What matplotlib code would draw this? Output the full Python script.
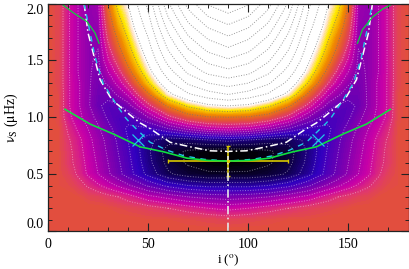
import numpy as np
import matplotlib
matplotlib.use('Agg')
import matplotlib.pyplot as plt
from matplotlib.colors import LinearSegmentedColormap
from matplotlib.ticker import MultipleLocator

plt.rcParams['font.family'] = ['Liberation Serif', 'DejaVu Serif']
plt.rcParams['mathtext.fontset'] = 'stix'

# field, left half only (it is mirrored about i=90)
inc_half = [0, 5, 10, 15, 20, 25, 30, 35, 40, 50, 60, 70, 80, 90]
nu_rows = [0.0, 0.1, 0.2, 0.3, 0.4, 0.5, 0.6, 0.7, 0.8, 0.9, 1.0,
           1.1, 1.2, 1.3, 1.4, 1.5, 1.6, 1.7, 1.8, 1.9, 2.0]
field_half = [
    [.66, .66, .66, .66, .66, .66, .66, .66, .66, .66, .66, .66, .66, .66],
    [.66, .66, .66, .66, .66, .66, .66, .66, .66, .65, .65, .64, .63, .62],
    [.66, .66, .66, .66, .66, .66, .65, .64, .63, .61, .58, .55, .52, .50],
    [.66, .66, .66, .65, .63, .62, .60, .58, .55, .48, .44, .40, .38, .37],
    [.66, .65, .64, .61, .57, .53, .49, .45, .41, .33, .26, .22, .20, .20],
    [.66, .65, .62, .57, .51, .46, .41, .36, .31, .20, .11, .07, .05, .05],
    [.66, .65, .60, .56, .50, .45, .40, .35, .30, .18, .08, .03, .01, .00],
    [.66, .65, .60, .55, .49, .44, .39, .34, .29, .17, .07, .03, .01, .00],
    [.66, .65, .59, .54, .48, .43, .38, .33, .28, .18, .12, .13, .16, .18],
    [.66, .65, .57, .51, .46, .41, .36, .31, .27, .27, .34, .42, .48, .50],
    [.66, .64, .54, .48, .43, .38, .33, .30, .30, .40, .55, .66, .71, .72],
    [.66, .64, .53, .47, .41, .35, .32, .33, .37, .55, .74, .88, .97, 1.00],
    [.66, .64, .53, .47, .41, .36, .36, .41, .47, .70, .96, 1.12, 1.22, 1.28],
    [.66, .63, .53, .47, .41, .37, .41, .48, .58, .85, 1.10, 1.30, 1.42, 1.48],
    [.66, .63, .53, .46, .41, .38, .46, .55, .68, .95, 1.22, 1.45, 1.60, 1.66],
    [.66, .63, .53, .46, .41, .39, .51, .62, .76, 1.02, 1.33, 1.58, 1.74, 1.82],
    [.66, .63, .53, .46, .41, .40, .55, .69, .82, 1.08, 1.43, 1.70, 1.88, 1.96],
    [.66, .63, .53, .46, .41, .41, .60, .74, .87, 1.14, 1.52, 1.82, 2.00, 2.10],
    [.66, .63, .53, .46, .41, .42, .64, .80, .92, 1.20, 1.62, 1.94, 2.14, 2.24],
    [.66, .63, .53, .46, .41, .43, .68, .85, .96, 1.26, 1.72, 2.06, 2.28, 2.38],
    [.66, .63, .53, .46, .41, .44, .72, .90, 1.00, 1.32, 1.82, 2.18, 2.42, 2.52],
]

# curves
white_i = [18, 20, 26, 31, 33.5, 41, 46, 51, 61, 71, 81, 90, 99, 109, 119, 129, 134, 139, 146.5, 149, 154, 160, 162]
white_nu = [2.0, 1.74, 1.33, 1.18, 1.13, 1.02, .95, .9, .78, .74, .705, .70, .705, .74, .78, .9, .95, 1.02, 1.13, 1.18, 1.33, 1.74, 2.0]
cyan_i = [18, 23.5, 27.5, 33.5, 38.5, 41, 51, 59.5, 68, 78, 90, 102, 112, 120.5, 129, 139, 141.5, 146.5, 152.5, 156.5, 162]
cyan_nu = [2.0, 1.53, 1.3, 1.13, 1.0, .95, .78, .71, .66, .63, .615, .63, .66, .71, .78, .95, 1.0, 1.13, 1.3, 1.53, 2.0]
green_i = [8.5, 21, 33, 46, 58, 69.5, 80, 90, 100, 110.5, 122, 134, 147, 159, 171]
green_nu = [1.07, .94, .85, .74, .695, .64, .62, .615, .62, .64, .695, .74, .85, .94, 1.07]
arc_l_i = [6.5, 12.5, 19.5, 23.5, 25.5]
arc_l_nu = [2.0, 1.92, 1.84, 1.74, 1.65]
arc_r_i = [154.5, 157, 162, 167, 172.5]
arc_r_nu = [1.65, 1.77, 1.88, 1.95, 2.0]
cross_i = [45, 135]
cross_nu = [.8, .8]
best_i, best_nu = 90, .615
err_i, err_nu = 30, .135
x_ticks = [0, 50, 100, 150]
y_ticks = [0.0, 0.5, 1.0, 1.5, 2.0]

half = np.array(field_half)
inc = np.concatenate([inc_half, 180 - np.array(inc_half[-2::-1])])
field = np.hstack([half, half[:, -2::-1]])

cmap = LinearSegmentedColormap.from_list('lik', [
    (0.00, '#000000'), (0.12, '#12005a'), (0.25, '#3000c0'), (0.38, '#7a00b0'),
    (0.50, '#c800a8'), (0.60, '#e0386c'), (0.66, '#e2503a'), (0.78, '#f08a00'),
    (0.90, '#ffea00'), (0.96, '#ffe0c0'), (1.00, '#ffffff')])
cmap.set_over('white')

fig = plt.figure(figsize=(4.09, 2.69), dpi=100)
ax = fig.add_axes([48 / 409, 1 - 231 / 269, 360.5 / 409, 227.5 / 269])

ax.contourf(inc, nu_rows, field, levels=np.linspace(0, 1, 101), cmap=cmap,
            vmin=0, vmax=1, extend='max', antialiased=False)
ax.contour(inc, nu_rows, field, levels=np.arange(.04, .64, .06), colors='white',
           linestyles=':', linewidths=.7, alpha=.45)
ax.contour(inc, nu_rows, field, levels=np.arange(.72, 2.6, .14), colors='#707070',
           linestyles=':', linewidths=.7, alpha=.7)

ax.plot(white_i, white_nu, color='white', lw=1.1, ls=(0, (5, 2, 1, 2)))
ax.plot(cyan_i, cyan_nu, color='#22c8e8', lw=1.0, ls=(0, (4, 4)))
ax.errorbar(best_i, best_nu, xerr=err_i, yerr=err_nu, color='#d8c800', lw=1.2,
            capsize=1.5, capthick=1, marker='o', ms=1.5)
ax.plot(green_i, green_nu, color='#10e040', lw=1.2)
ax.plot(arc_l_i, arc_l_nu, color='#10d040', lw=.9)
ax.plot(arc_r_i, arc_r_nu, color='#10d040', lw=.9)
ax.plot(cross_i, cross_nu, ls='none', marker='x', ms=8, mew=.9, color='#20c8e8')
ax.plot([90, 90], [0, .7], color='#e8e8e8', lw=1.2, ls=(0, (5, 2, 1, 2)))

ax.set_xlim(0, 180)
ax.set_ylim(0, 2.0)
ax.set_xticks(x_ticks)
ax.set_yticks(y_ticks)
ax.set_yticklabels(['%.1f' % v for v in y_ticks])
ax.xaxis.set_minor_locator(MultipleLocator(10))
ax.yaxis.set_minor_locator(MultipleLocator(.1))
ax.tick_params(which='major', direction='in', top=True, right=True, length=6,
               width=.8, labelsize=10, color='#222222', pad=5)
ax.tick_params(which='minor', direction='in', top=True, right=True, length=3,
               width=.7, color='#222222')
ax.tick_params(axis='y', pad=3)
labs = ax.get_yticklabels()
labs[0].set_va('bottom')
labs[-1].set_va('top')
for s in ax.spines.values():
    s.set_linewidth(.9)
    s.set_color('#222222')

fig.text(228 / 409, 1 - 260.5 / 269, r'i ($^{\rm o}$)', fontsize=9.5, ha='center', va='center')
fig.text(11 / 409, 1 - 118 / 269, r'$\mathrm{\nu_S}$ ($\mathrm{\mu}$Hz)', fontsize=10,
         rotation=90, ha='center', va='center')

fig.savefig('out.png', dpi=100)
